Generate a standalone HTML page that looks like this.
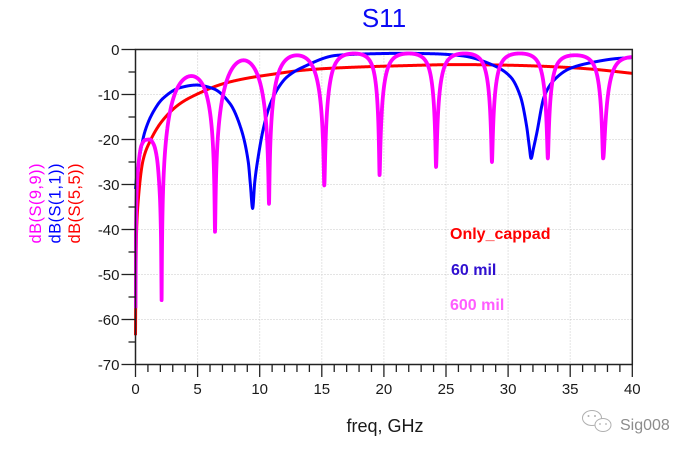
<!DOCTYPE html>
<html><head><meta charset="utf-8">
<style>html,body{margin:0;padding:0;background:#fff}svg{display:block}</style>
</head><body>
<svg id="s" width="693" height="455" viewBox="0 0 693 455" xmlns="http://www.w3.org/2000/svg" font-family="'Liberation Sans', Arial, sans-serif">
<rect x="0" y="0" width="693" height="455" fill="#fff"/>
<defs><clipPath id="c"><rect x="134" y="44" width="499" height="323"/></clipPath></defs>
<g id="grid" stroke="#c8c8c8" stroke-width="1" stroke-dasharray="1 2" fill="none"></g>
<g id="curves" clip-path="url(#c)" fill="none" stroke-width="3" stroke-linejoin="round" stroke-linecap="butt"></g>
<g id="axes" stroke="#222" fill="none"></g>

<text x="384" y="27" font-size="26" fill="#0a0af5" text-anchor="middle">S11</text>

<g font-size="15" fill="#1a1a1a" text-anchor="end">
<text x="119.5" y="54.8">0</text>
<text x="119.5" y="99.8">-10</text>
<text x="119.5" y="144.8">-20</text>
<text x="119.5" y="189.8">-30</text>
<text x="119.5" y="234.8">-40</text>
<text x="119.5" y="279.8">-50</text>
<text x="119.5" y="324.8">-60</text>
<text x="119.5" y="369.8">-70</text>
</g>
<g font-size="15" fill="#1a1a1a" text-anchor="middle">
<text x="135.5" y="394">0</text>
<text x="197.6" y="394">5</text>
<text x="259.7" y="394">10</text>
<text x="321.8" y="394">15</text>
<text x="383.9" y="394">20</text>
<text x="446.0" y="394">25</text>
<text x="508.1" y="394">30</text>
<text x="570.2" y="394">35</text>
<text x="632.3" y="394">40</text>
</g>
<text x="385" y="432" font-size="18" fill="#1a1a1a" text-anchor="middle">freq, GHz</text>

<g font-size="16.5" text-anchor="middle">
<text transform="translate(41,203.5) rotate(-90)" fill="#ff00ff" textLength="80" lengthAdjust="spacing">dB(S(9,9))</text>
<text transform="translate(60.5,203.5) rotate(-90)" fill="#0000ff" textLength="80" lengthAdjust="spacing">dB(S(1,1))</text>
<text transform="translate(80,203.5) rotate(-90)" fill="#ff0000" textLength="80" lengthAdjust="spacing">dB(S(5,5))</text>
</g>

<g font-size="16" font-weight="bold">
<text x="450" y="239" fill="#ff0000">Only_cappad</text>
<text x="451" y="275" fill="#3010d0">60 mil</text>
<text x="450" y="310" fill="#ff5cff">600 mil</text>
</g>

<g stroke="#b0b0b0" stroke-width="1" fill="#fff">
<ellipse cx="592" cy="418" rx="9.5" ry="7.5"/>
<ellipse cx="603" cy="425" rx="8" ry="6.5"/>
</g>
<g fill="#b0b0b0">
<circle cx="588.5" cy="416" r="1"/><circle cx="595" cy="416" r="1"/>
<circle cx="600" cy="424" r="0.9"/><circle cx="606" cy="424" r="0.9"/>
</g>
<text x="620" y="430" font-size="16" fill="#8c8c8c">Sig008</text>
</svg>
<script>
(function(){
var NS="http://www.w3.org/2000/svg";
function X(f){return 135.5+12.42*f;}
function Y(d){return 49.5-4.5*d;}
function el(parent,tag,attrs){var e=document.createElementNS(NS,tag);for(var k in attrs)e.setAttribute(k,attrs[k]);parent.appendChild(e);return e;}
var grid=document.getElementById('grid'),axes=document.getElementById('axes'),curves=document.getElementById('curves');
for(var f=5;f<40;f+=5){el(grid,'line',{x1:X(f),y1:Y(0),x2:X(f),y2:Y(-70)});}
for(var d=-10;d>-70;d-=10){el(grid,'line',{x1:X(0),y1:Y(d),x2:X(40),y2:Y(d)});}

function mono(P){
 var n=P.length,xs=[],ys=[],h=[],dd=[],m=[],i;
 for(i=0;i<n;i++){xs.push(P[i][0]);ys.push(P[i][1]);}
 for(i=0;i<n-1;i++){h[i]=xs[i+1]-xs[i];dd[i]=(ys[i+1]-ys[i])/h[i];}
 m[0]=dd[0];m[n-1]=dd[n-2];
 for(i=1;i<n-1;i++){
  if(dd[i-1]*dd[i]<=0)m[i]=0;
  else{var w1=2*h[i]+h[i-1],w2=h[i]+2*h[i-1];m[i]=(w1+w2)/(w1/dd[i-1]+w2/dd[i]);}
 }
 return function(x){
  var j=0;while(j<n-2&&x>xs[j+1])j++;
  var t=(x-xs[j])/h[j],t2=t*t,t3=t2*t;
  return (2*t3-3*t2+1)*ys[j]+(t3-2*t2+t)*h[j]*m[j]+(-2*t3+3*t2)*ys[j+1]+(t3-t2)*h[j]*m[j+1];
 };
}
function samples(extra,step){
 var a=[],f;
 for(f=0;f<0.5;f+=0.005)a.push(f);
 for(f=0.5;f<=40.0001;f+=step)a.push(f);
 a=a.concat(extra);a.push(40);
 a.sort(function(p,q){return p-q;});
 var out=[];for(var i=0;i<a.length;i++){if(a[i]>=0&&a[i]<=40&&(out.length==0||a[i]-out[out.length-1]>1e-6))out.push(a[i]);}
 return out;
}
function path(fs,fn){
 var s='';for(var i=0;i<fs.length;i++){s+=(i?'L':'M')+X(fs[i]).toFixed(2)+','+Y(fn(fs[i])).toFixed(2);}return s;
}
var R=[[0,-63.5],[0.03,-50],[0.08,-41],[0.21,-33.9],[0.61,-24.6],[1.15,-20.5],[2.2,-15.7],[3.6,-12],[4.9,-10],[7.07,-7.6],[8.95,-6.4],[10.8,-5.6],[13.5,-4.6],[16.2,-4.1],[21.5,-3.6],[26,-3.35],[30.2,-3.5],[34.2,-3.9],[36.9,-4.4],[40,-5.3]];
var B=[[0,-31],[0.1,-28],[0.35,-23.5],[0.75,-18.3],[1.42,-13.9],[2.2,-10.9],[3.57,-8.5],[4.9,-7.9],[6.26,-8.7],[7.6,-12],[8.4,-16.8],[9.08,-25],[9.25,-30],[9.43,-35.3],[9.6,-29.5],[9.9,-23.5],[10.3,-17.5],[10.8,-12.5],[11.5,-8.5],[12.2,-6.1],[13.5,-3.9],[16.2,-1.3],[19,-0.95],[21.5,-0.85],[24,-0.95],[26.3,-1.4],[28.8,-3.5],[30.2,-6.1],[31.0,-10.5],[31.5,-17.2],[31.7,-21.4],[31.85,-24.2],[32.05,-21.9],[32.3,-18.7],[32.9,-10.5],[33.7,-6.8],[35.0,-4.2],[36.9,-2.8],[38.8,-2.0],[40,-1.8]];
var M0=[[0,-57.5],[0.03,-42],[0.08,-33],[0.21,-26.4],[0.48,-21.3],[0.8,-20.1],[1.15,-20],[1.45,-21],[1.69,-23.5],[1.96,-32.4],[2.05,-41.4],[2.1,-55.7]];
var rf=mono(R),bf=mono(B),m0=mono(M0);
var MN=[2.1,6.4,10.75,15.2,19.65,24.2,28.7,33.2,37.65,42.1];
var MD=[-55.7,-40.5,-34.3,-30.2,-27.9,-26.1,-25,-24.2,-24.2,-24.2];
var MPk=[4.5,8.7,13.0,17.6,22.0,26.5,30.95,35.4,40.1];
var MPd=[-5.9,-2.4,-1.3,-0.9,-0.9,-0.9,-0.9,-1.3,-1.7];
var MG=[0.3,0.2,0.42,0.6,0.6,0.6,0.6,0.6,0.6];
function mf(f){
 if(f<=2.1)return m0(f);
 var k=0;while(k<MN.length-2&&f>MN[k+1])k++;
 var a=MN[k],b=MN[k+1],w=b-a,u=(f-a)/w;
 if(u<0)u=0;if(u>1)u=1;
 var up=(MPk[k]-a)/w,p=Math.log(0.5)/Math.log(up);
 var th=Math.PI*Math.pow(u,p),s=Math.abs(Math.sin(th)),g=MG[k];
 var G=2*g*s/Math.sqrt(Math.pow(1-g*g,2)+4*g*g*s*s),Gp=2*g/(1+g*g);
 var amp=Math.pow(10,MPd[k]/20)*G/Gp;
 var ea=Math.pow(10,MD[k]/20),eb=Math.pow(10,MD[k+1]/20),e=ea+(eb-ea)*u;
 return 10*Math.log(amp*amp+e*e)/Math.LN10;
}
var fsR=samples(R.map(function(p){return p[0];}),0.02);
var fsB=samples(B.map(function(p){return p[0];}),0.01);
var fsM=samples(M0.map(function(p){return p[0];}).concat(MN),0.004);
el(curves,'path',{d:path(fsR,rf),stroke:'#ff0000'});
el(curves,'path',{d:path(fsB,bf),stroke:'#0000ff'});
el(curves,'path',{d:path(fsM,mf),stroke:'#ff00ff','stroke-width':3.8});
el(axes,'rect',{x:X(0),y:Y(0),width:X(40)-X(0),height:Y(-70)-Y(0),'stroke-width':1.5});
for(var dv=0;dv>=-70;dv-=5){var maj=(dv%10==0);el(axes,'line',{x1:maj?121.5:128.5,y1:Y(dv),x2:X(0),y2:Y(dv),'stroke-width':1.3});}
for(var fv=0;fv<=40;fv+=1){var mj=(fv%5==0);el(axes,'line',{x1:X(fv),y1:Y(-70),x2:X(fv),y2:Y(-70)+(mj?12.5:7.5),'stroke-width':1.3});}
})();
</script>
</body></html>
